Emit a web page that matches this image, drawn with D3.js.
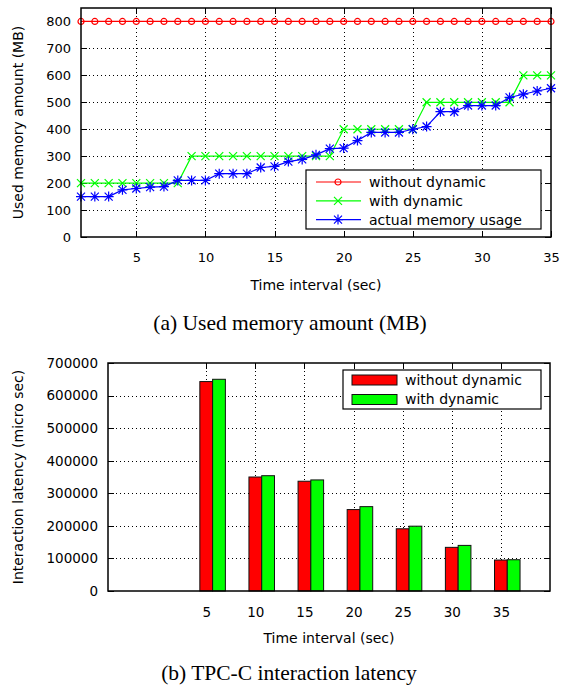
<!DOCTYPE html>
<html>
<head>
<meta charset="utf-8">
<script src="https://cdn.jsdelivr.net/npm/d3@7"></script>
<style>
  body { margin: 0; background: #fff; }
  svg text { font-family: "DejaVu Sans", Verdana, sans-serif; fill: #000; }
  .caption { font-family: "Liberation Serif", "Times New Roman", serif; }
  .grid line { stroke: #000; stroke-width: 1; stroke-dasharray: 1,3; shape-rendering: crispEdges; }
  .axis path { display: none; }
  .axis line { stroke: #000; shape-rendering: crispEdges; }
</style>
</head>
<body>
<div id="chart"></div>
<script>
// (a) used memory amount, one point per second
var memTime = [1, 2, 3, 4, 5, 6, 7, 8, 9, 10, 11, 12, 13, 14, 15, 16, 17, 18,
               19, 20, 21, 22, 23, 24, 25, 26, 27, 28, 29, 30, 31, 32, 33, 34, 35];
var memWithout = [800, 800, 800, 800, 800, 800, 800, 800, 800, 800, 800, 800,
                  800, 800, 800, 800, 800, 800, 800, 800, 800, 800, 800, 800,
                  800, 800, 800, 800, 800, 800, 800, 800, 800, 800, 800];
var memWith = [200, 200, 200, 200, 200, 200, 200, 200, 300, 300, 300, 300,
               300, 300, 300, 300, 300, 300, 300, 400, 400, 400, 400, 400,
               400, 500, 500, 500, 500, 500, 500, 500, 600, 600, 600];
var memActual = [150, 150, 150, 175, 180, 185, 187, 210, 210, 210, 235, 235,
                 235, 258, 262, 280, 288, 305, 328, 330, 358, 388, 388, 388,
                 400, 410, 465, 465, 488, 488, 488, 518, 530, 542, 552];
var memXTicks = [5, 10, 15, 20, 25, 30, 35];
var memYTicks = [0, 100, 200, 300, 400, 500, 600, 700, 800];

// (b) TPC-C interaction latency
var latTime = [5, 10, 15, 20, 25, 30, 35];
var latWithout = [643000, 350000, 337000, 250000, 191000, 134000, 95000];
var latWith = [650000, 354000, 341000, 259000, 199000, 140000, 96000];
var latYTicks = [0, 100000, 200000, 300000, 400000, 500000, 600000, 700000];

var seriesNames = ["without dynamic", "with dynamic", "actual memory usage"];
var red = "#ff0000", green = "#00ff00", blue = "#0000ff";

var svg = d3.select("#chart").append("svg")
    .attr("width", 563)
    .attr("height", 687);

/* helpers */
function frame(g, w, h, x, y, xTicks, yTicks, yFmt, yFont) {
    // dotted grid
    g.append("g").attr("class", "grid")
        .selectAll("line").data(yTicks.filter(d => y(d) > 1 && y(d) < h - 1)).enter()
        .append("line")
        .attr("x1", 0).attr("x2", w)
        .attr("y1", d => Math.round(y(d)) + 0.5).attr("y2", d => Math.round(y(d)) + 0.5);
    g.append("g").attr("class", "grid")
        .selectAll("line").data(xTicks.filter(d => x(d) > 1 && x(d) < w - 1)).enter()
        .append("line")
        .attr("y1", 0).attr("y2", h)
        .attr("x1", d => Math.round(x(d)) + 0.5).attr("x2", d => Math.round(x(d)) + 0.5);

    // ticks pointing inward, mirrored
    g.append("g").attr("class", "axis")
        .call(d3.axisLeft(y).tickValues(yTicks).tickSize(-6).tickPadding(10).tickFormat(yFmt))
        .selectAll("text").style("font-size", yFont + "px");
    g.append("g").attr("class", "axis")
        .attr("transform", `translate(${w},0)`)
        .call(d3.axisRight(y).tickValues(yTicks).tickSize(-6).tickFormat(""));
    g.append("g").attr("class", "axis")
        .attr("transform", `translate(0,${h})`)
        .call(d3.axisBottom(x).tickValues(xTicks).tickSize(-6).tickPadding(16))
        .selectAll("text").style("font-size", yFont + "px");
    g.append("g").attr("class", "axis")
        .call(d3.axisTop(x).tickValues(xTicks).tickSize(-6).tickFormat(""));
}

function border(g, w, h) {
    g.append("rect")
        .attr("width", w).attr("height", h)
        .attr("fill", "none")
        .attr("stroke", "#000")
        .attr("stroke-width", 1.5);
}

/* ---------- (a) Used memory amount ---------- */
var aL = 81, aT = 8, aW = 470, aH = 229;
var ga = svg.append("g").attr("transform", `translate(${aL},${aT})`);

var xA = d3.scaleLinear().domain([1, 35]).range([0, aW]);
var yA = d3.scaleLinear().domain([0, 850]).range([aH, 0]);

frame(ga, aW, aH, xA, yA, memXTicks, memYTicks, d3.format("d"), 13);

var memSeries = [
    {name: seriesNames[0], values: memWithout, color: red, mark: "circle"},
    {name: seriesNames[1], values: memWith, color: green, mark: "cross"},
    {name: seriesNames[2], values: memActual, color: blue, mark: "star"}
];

var line = d3.line()
    .x((d, i) => xA(memTime[i]))
    .y(d => yA(d));

function marker(sel, mark, color) {
    if (mark === "circle") {
        sel.append("circle").attr("r", 3)
            .attr("fill", "none").attr("stroke", color).attr("stroke-width", 1.2);
    } else {
        var s = 4;
        sel.append("path")
            .attr("d", `M${-s},${-s}L${s},${s}M${-s},${s}L${s},${-s}` +
                (mark === "star" ? `M0,${-s - 1}L0,${s + 1}M${-s - 1},0L${s + 1},0` : ""))
            .attr("stroke", color).attr("stroke-width", 1.2).attr("fill", "none");
    }
}

memSeries.forEach(function(s) {
    ga.append("path")
        .attr("d", line(s.values))
        .attr("fill", "none")
        .attr("stroke", s.color)
        .attr("stroke-width", 1.2);
    ga.append("g").selectAll("g")
        .data(s.values).enter()
        .append("g")
        .attr("transform", (d, i) => `translate(${xA(memTime[i])},${yA(d)})`)
        .each(function() { marker(d3.select(this), s.mark, s.color); });
});

border(ga, aW, aH);

// legend (a)
var la = ga.append("g").attr("transform", `translate(${306 - aL},${170 - aT})`);
la.append("rect")
    .attr("width", 235).attr("height", 59)
    .attr("fill", "#fff").attr("stroke", "#000").attr("stroke-width", 1.2);
memSeries.forEach(function(s, i) {
    var row = la.append("g").attr("transform", `translate(0,${12 + i * 18.8})`);
    row.append("line")
        .attr("x1", 10).attr("x2", 55)
        .attr("stroke", s.color).attr("stroke-width", 1.2);
    row.append("g").attr("transform", "translate(32,0)")
        .call(marker, s.mark, s.color);
    row.append("text")
        .attr("x", 63).attr("dy", "0.35em")
        .style("font-size", "14px")
        .text(s.name);
});

ga.append("text")
    .attr("x", aW / 2).attr("y", aH + 53)
    .attr("text-anchor", "middle")
    .style("font-size", "14px")
    .text("Time interval (sec)");

ga.append("text")
    .attr("transform", `translate(${18 - aL},${aH / 2}) rotate(-90)`)
    .attr("text-anchor", "middle")
    .attr("dy", "0.35em")
    .style("font-size", "14px")
    .text("Used memory amount (MB)");

svg.append("text").attr("class", "caption")
    .attr("x", 290).attr("y", 330)
    .attr("text-anchor", "middle")
    .style("font-size", "21.5px")
    .text("(a) Used memory amount (MB)");

/* ---------- (b) TPC-C interaction latency ---------- */
var bL = 108, bT = 363, bW = 442, bH = 228;
var gb = svg.append("g").attr("transform", `translate(${bL},${bT})`);

var xB = d3.scaleLinear().domain([-5, 40]).range([0, bW]);
var yB = d3.scaleLinear().domain([0, 700000]).range([bH, 0]);

frame(gb, bW, bH, xB, yB, latTime, latYTicks, d3.format("d"), 13.5);

var barW = 1.3;   // in x units
var latSeries = [
    {name: seriesNames[0], values: latWithout, color: red, off: -barW / 2},
    {name: seriesNames[1], values: latWith, color: green, off: barW / 2}
];

latSeries.forEach(function(s) {
    gb.append("g").selectAll("rect")
        .data(s.values).enter()
        .append("rect")
        .attr("x", (d, i) => xB(latTime[i] + s.off))
        .attr("width", xB(barW) - xB(0))
        .attr("y", d => yB(d))
        .attr("height", d => bH - yB(d))
        .attr("fill", s.color)
        .attr("stroke", "#111")
        .attr("stroke-width", 1);
});

border(gb, bW, bH);

// legend (b)
var lb = gb.append("g").attr("transform", `translate(${343 - bL},${370 - bT})`);
lb.append("rect")
    .attr("width", 198).attr("height", 39)
    .attr("fill", "#fff").attr("stroke", "#000").attr("stroke-width", 1.2);
latSeries.forEach(function(s, i) {
    var row = lb.append("g").attr("transform", `translate(0,${10 + i * 19.5})`);
    row.append("rect")
        .attr("x", 9).attr("y", -5)
        .attr("width", 45).attr("height", 10)
        .attr("fill", s.color).attr("stroke", "#111");
    row.append("text")
        .attr("x", 62).attr("dy", "0.35em")
        .style("font-size", "14px")
        .text(s.name);
});

gb.append("text")
    .attr("x", bW / 2).attr("y", bH + 52)
    .attr("text-anchor", "middle")
    .style("font-size", "14px")
    .text("Time interval (sec)");

gb.append("text")
    .attr("transform", `translate(${18 - bL},${bH / 2}) rotate(-90)`)
    .attr("text-anchor", "middle")
    .attr("dy", "0.35em")
    .style("font-size", "14px")
    .text("Interaction latency (micro sec)");

svg.append("text").attr("class", "caption")
    .attr("x", 289).attr("y", 680)
    .attr("text-anchor", "middle")
    .style("font-size", "21.5px")
    .text("(b) TPC-C interaction latency");
</script>
</body>
</html>
